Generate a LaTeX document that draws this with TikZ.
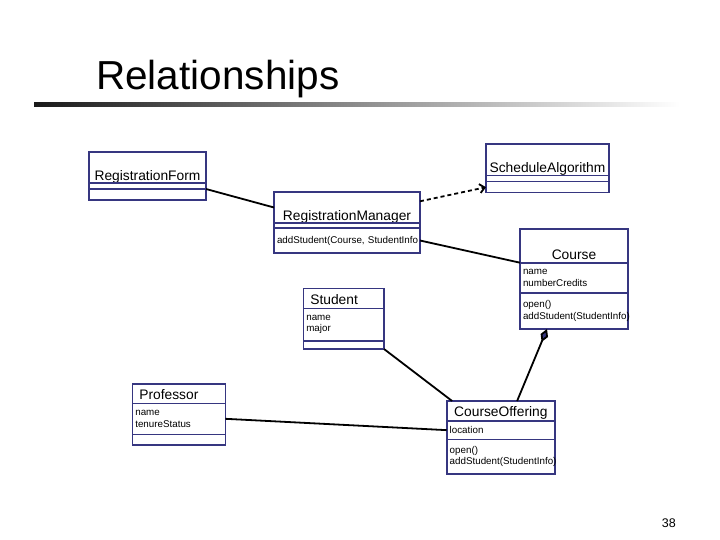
\documentclass[tikz,border=0pt]{standalone}
\usepackage{fontspec}
\setmainfont{Liberation Sans}
\usepackage{xcolor}
\usetikzlibrary{positioning,calc,arrows.meta}
\definecolor{umlblue}{RGB}{54,54,128}
\tikzset{
    umlbox/.style={draw=umlblue, line width=1.6pt, outer sep=0pt, inner ysep=0pt},
    clsname/.style={umlbox, inner xsep=3pt, align=center, anchor=north west, font=\fontsize{13.8}{16}\selectfont},
    compart/.style={umlbox, inner xsep=3pt, align=left, font=\fontsize{9.8}{11.5}\selectfont},
    assoc/.style={draw=black, line width=1.8pt},
    depend/.style={assoc, dash pattern=on 4pt off 3pt, -{Straight Barb[length=5pt,width=9pt]}},
    aggr/.style={assoc, -{Diamond[length=14pt,width=8pt,fill=umlblue]}}
}

\begin{document}
\begin{tikzpicture}[x=1pt, y=-1pt]
    \path[use as bounding box, fill=white] (0,0) rectangle (720,540);

    % title
    \node[anchor=base west, inner sep=0pt, font=\fontsize{40.5}{48}\selectfont] (title) at (96,90) {Relationships};
    \shade[left color=black!90, right color=white] (34,103) rectangle (680,107);

    % classes
    \node[clsname, minimum width=117pt, text height=28.5pt, text depth=2.5pt] (form) at (89,152) {RegistrationForm};
    \node[compart, minimum width=117pt, minimum height=6pt, below=0pt of form] (form-attr) {};
    \node[compart, minimum width=117pt, minimum height=11pt, below=0pt of form-attr] (form-ops) {};

    \node[clsname, minimum width=123pt, text height=28.7pt, text depth=3pt] (sched) at (486,144) {ScheduleAlgorithm};
    \node[compart, minimum width=123pt, minimum height=6pt, below=0pt of sched] (sched-attr) {};
    \node[compart, minimum width=123pt, minimum height=11pt, below=0pt of sched-attr] (sched-ops) {};

    \node[clsname, minimum width=146pt, text height=29pt, text depth=2pt] (manager) at (274,192) {RegistrationManager};
    \node[compart, minimum width=146pt, minimum height=5pt, below=0pt of manager] (manager-attr) {};
    \node[compart, text width=140pt, minimum height=25pt, below=0pt of manager-attr] (manager-ops) {\mbox{addStudent(Course, StudentInfo}};

    \node[clsname, minimum width=108pt, text height=29.7pt, text depth=3.7pt] (course) at (520,229.3) {Course};
    \node[compart, text width=102pt, minimum height=30pt, below=0pt of course] (course-attr) {name\\numberCredits};
    \node[compart, text width=102pt, minimum height=36.3pt, below=0pt of course-attr] (course-ops) {open()\\\mbox{addStudent(StudentInfo)}};

    \node[clsname, text width=66.7pt, inner xsep=7pt, align=left, text height=15.7pt, text depth=4.3pt] (student) at (303.3,288.3) {Student};
    \node[compart, text width=74.7pt, minimum height=32.4pt, below=0pt of student] (student-attr) {name\\major};
    \node[compart, minimum width=80.7pt, minimum height=8.3pt, below=0pt of student-attr] (student-ops) {};

    \node[clsname, text width=79pt, inner xsep=7pt, align=left, text height=15.3pt, text depth=4pt] (prof) at (132.3,384) {Professor};
    \node[compart, text width=87pt, minimum height=31pt, below=0pt of prof] (prof-attr) {name\\tenureStatus};
    \node[compart, minimum width=93pt, minimum height=10.7pt, below=0pt of prof-attr] (prof-ops) {};

    \node[clsname, minimum width=108.3pt, text height=15.7pt, text depth=4.3pt] (offering) at (446.7,401) {CourseOffering};
    \node[compart, text width=102.3pt, minimum height=18.3pt, below=0pt of offering] (offering-attr) {location};
    \node[compart, text width=102.3pt, minimum height=34.7pt, below=0pt of offering-attr] (offering-ops) {open()\\\mbox{addStudent(StudentInfo)}};

    % relationships
    \draw[assoc] (form-attr.south east) -- (manager.west);
    \draw[depend] ($(manager.north east)!0.3!(manager.south east)$) -- (sched-ops.west);
    \draw[assoc] (manager-ops.east) -- (course-attr.north west);
    \draw[assoc] (student-ops.south east) -- ($(offering.north west)!0.05!(offering.north east)$);
    \draw[aggr] ($(offering.north west)!0.65!(offering.north east)$) -- ($(course-ops.south west)!0.25!(course-ops.south east)$);
    \draw[assoc] (prof-attr.east) -- (offering-attr.west);

    \node[anchor=base east, inner sep=0pt, font=\fontsize{12.5}{14}\selectfont] (pagenum) at (676,527.5) {38};
\end{tikzpicture}
\end{document}
